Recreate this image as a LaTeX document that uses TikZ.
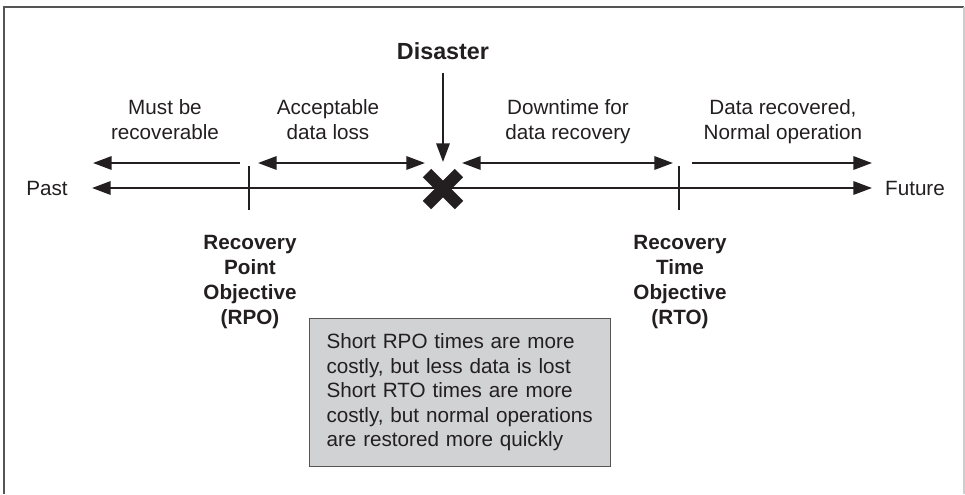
\documentclass[tikz,border=0pt]{standalone}
\usepackage{fontspec}
\setmainfont{Liberation Sans}
\usepackage{xcolor}
\usetikzlibrary{arrows.meta,calc}
\definecolor{cInk}{RGB}{35,31,32}
\definecolor{cNote}{RGB}{209,210,212}
\definecolor{cFrame}{RGB}{85,85,85}
\definecolor{cFrameR}{RGB}{205,205,205}

\begin{document}
\begin{tikzpicture}[x=0.75pt,y=-0.75pt,
   t/.style={align=center,inner sep=0pt,text=cInk,font=\fontsize{15.5}{18.6}\selectfont},
   tb/.style={t,font=\fontsize{15.5}{18.6}\selectfont\bfseries},
   n/.style={draw=cFrame,line width=0.8pt,fill=cNote,align=left,text=cInk,
             text width=200pt,inner xsep=12.75pt,inner ysep=0pt,minimum height=111pt,
             font=\fontsize{15.5}{18.4}\selectfont},
   a/.style={-{Triangle[length=14pt,width=10pt]},line width=1.7pt,cInk},
   aa/.style={{Triangle[length=14pt,width=10pt]}-{Triangle[length=14pt,width=10pt]},line width=1.7pt,cInk},
   tk/.style={line width=1.7pt,cInk},
   xm/.style={line width=9pt,cInk,line cap=butt}]
  \useasboundingbox (0,0) rectangle (965,494);
  % frame
  \draw[cFrame,line width=2.2pt] (4,494) -- (4,7) -- (964,7);
  \draw[cFrameR,line width=1.5pt] (964,7) -- (964,494);

  % time line
  \node[t] (past) at (47,188) {Past};
  \node[t] (fut)  at (915,188) {Future};
  \coordinate (tw) at (92,188);
  \coordinate (te) at (872,188);
  \draw[aa] (tw) -- (te);

  % RPO / RTO ticks
  \coordinate (rpo) at (249,188);
  \coordinate (rto) at (679,188);
  \draw[tk] ($(rpo)+(0,-22)$) -- ($(rpo)+(0,22)$);
  \draw[tk] ($(rto)+(0,-22)$) -- ($(rto)+(0,22)$);

  % intervals
  \coordinate (i1w) at (93,163);  \coordinate (i1e) at (240,163);
  \coordinate (i2w) at (258,163); \coordinate (i2e) at (425,163);
  \coordinate (i3w) at (462,163); \coordinate (i3e) at (673,163);
  \coordinate (i4w) at (692,163); \coordinate (i4e) at (872,163);
  \draw[a] (i1e) -- (i1w);
  \draw[aa] (i2w) -- (i2e);
  \draw[aa] (i3w) -- (i3e);
  \draw[a] (i4w) -- (i4e);

  \node[t,anchor=north] (mb) at (165,99.5) {Must be\\ recoverable};
  \node[t,anchor=north] (ad) at (328,99.5) {Acceptable\\ data loss};
  \node[t,anchor=north] (dt) at (568,99.5) {Downtime for\\ data recovery};
  \node[t,anchor=north] (dr) at (783,99.5) {Data recovered,\\ Normal operation};

  % disaster
  \coordinate (dis) at (443,189);
  \coordinate (dtip) at (443,162);
  \node[tb,font=\fontsize{17.5}{21}\selectfont\bfseries] (dstr) at (443,51) {Disaster};
  \draw[a] ($(dstr.south)+(0,13)$) -- (dtip);
  \draw[xm] ($(dis)+(-16,-16)$) -- ($(dis)+(16,16)$)
            ($(dis)+(-16,16)$) -- ($(dis)+(16,-16)$);

  \node[tb,anchor=north] (rpol) at (250,235.5) {Recovery\\ Point\\ Objective\\ (RPO)};
  \node[tb,anchor=north] (rtol) at (680,235.5) {Recovery\\ Time\\ Objective\\ (RTO)};

  % note
  \node[n,anchor=north west] (note) at (309,318) {Short RPO times are more\\ costly, but less data is lost\\
    Short RTO times are more\\ costly, but normal operations\\ are restored more quickly};
\end{tikzpicture}
\end{document}
